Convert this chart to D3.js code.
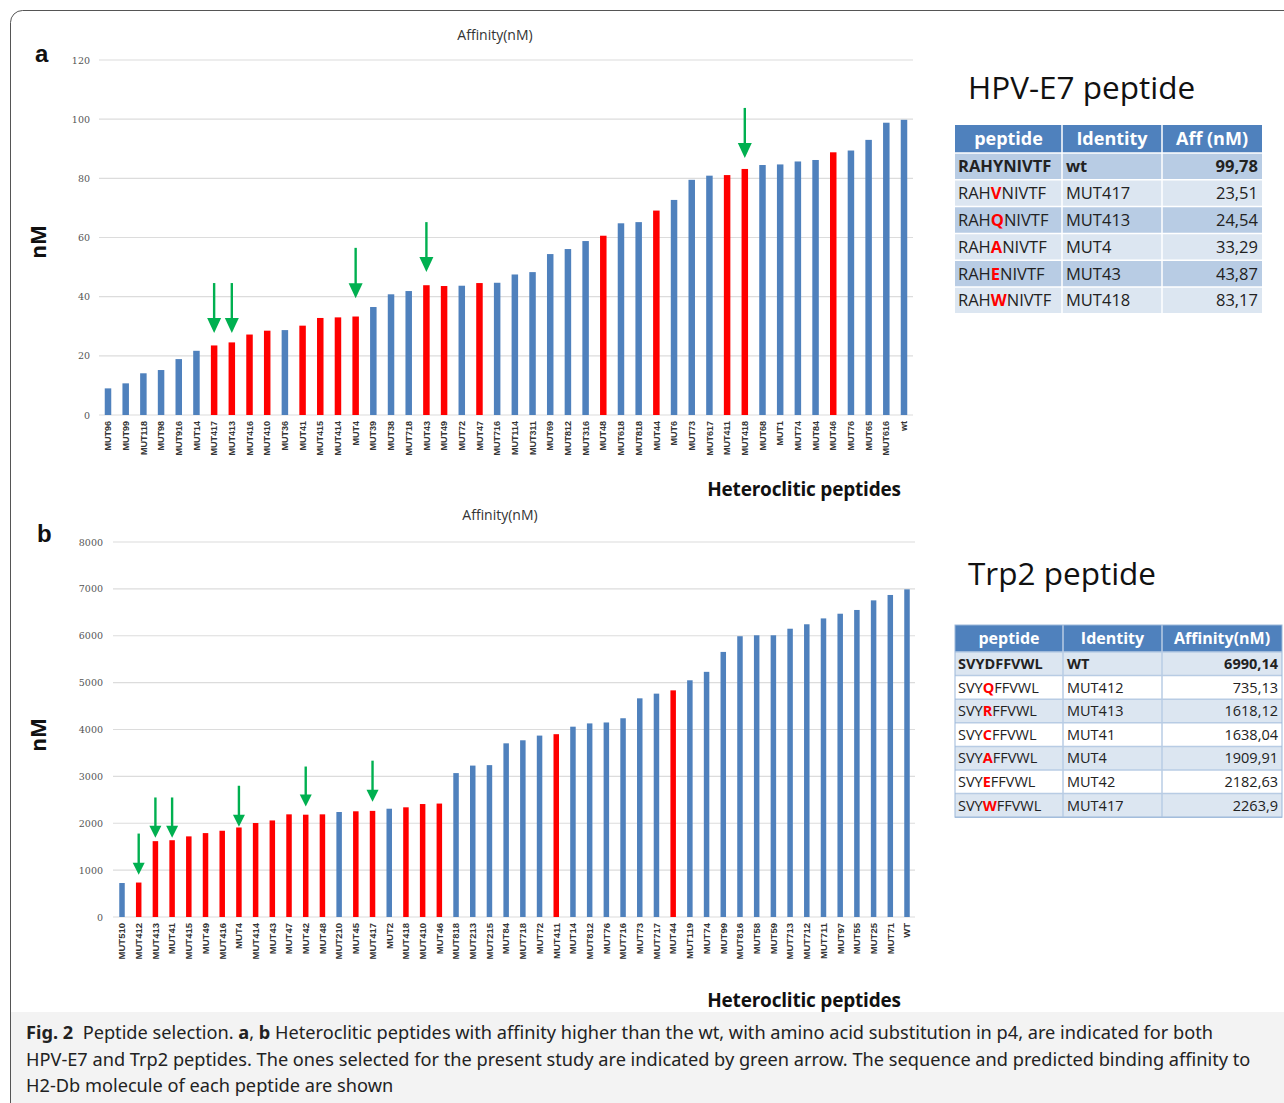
<!DOCTYPE html>
<html>
<head>
<meta charset="utf-8">
<script src="https://cdn.jsdelivr.net/npm/d3@7"></script>
<style>
  body { margin: 0; background: #fff; }
  svg { display: block; }
</style>
</head>
<body>
<svg id="fig"></svg>
<script>
// ---- data: panel a (HPV-E7) ----
const labelsA = ["MUT96","MUT99","MUT118","MUT98","MUT916","MUT14","MUT417","MUT413","MUT416","MUT410",
  "MUT36","MUT41","MUT415","MUT414","MUT4","MUT39","MUT38","MUT718","MUT43","MUT49",
  "MUT72","MUT47","MUT716","MUT114","MUT311","MUT69","MUT812","MUT316","MUT48","MUT618",
  "MUT818","MUT44","MUT6","MUT73","MUT617","MUT411","MUT418","MUT68","MUT1","MUT74",
  "MUT84","MUT46","MUT76","MUT65","MUT616","wt"];
const valuesA = [9.0,10.7,14.1,15.2,18.9,21.7,23.51,24.54,27.2,28.5,
  28.7,30.2,32.8,33.0,33.29,36.5,40.8,41.9,43.87,43.6,
  43.7,44.6,44.7,47.5,48.3,54.4,56.1,58.8,60.6,64.8,
  65.2,69.1,72.7,79.5,80.9,81.1,83.17,84.5,84.7,85.7,
  86.2,88.8,89.4,93.0,98.8,99.78];
const redA = ["MUT417","MUT413","MUT416","MUT410","MUT41","MUT415","MUT414","MUT4","MUT43","MUT49",
  "MUT47","MUT48","MUT44","MUT411","MUT418","MUT46"];
// arrows: [label, tail value, tip value]
const arrowsA = [["MUT417",44.6,27.7],["MUT413",44.6,27.7],["MUT4",56.5,39.5],["MUT43",65.2,48.3],["MUT418",103.8,86.9]];
const ticksA = [0,20,40,60,80,100,120];

// ---- data: panel b (Trp2) ----
const labelsB = ["MUT510","MUT412","MUT413","MUT41","MUT415","MUT49","MUT416","MUT4","MUT414","MUT43",
  "MUT47","MUT42","MUT48","MUT210","MUT45","MUT417","MUT2","MUT418","MUT410","MUT46",
  "MUT818","MUT213","MUT215","MUT84","MUT718","MUT72","MUT411","MUT14","MUT812","MUT76",
  "MUT716","MUT73","MUT717","MUT44","MUT119","MUT74","MUT99","MUT816","MUT58","MUT59",
  "MUT713","MUT712","MUT711","MUT97","MUT55","MUT25","MUT71","WT"];
const valuesB = [725,735.13,1618.12,1638.04,1720,1790,1840,1909.91,2005,2060,
  2190,2182.63,2190,2240,2255,2263.9,2310,2340,2410,2420,
  3070,3230,3240,3705,3770,3870,3900,4060,4130,4150,
  4240,4665,4765,4835,5050,5230,5655,5990,6010,6010,
  6150,6245,6370,6470,6550,6755,6870,6990.14];
const redB = ["MUT412","MUT413","MUT41","MUT415","MUT49","MUT416","MUT4","MUT414","MUT43","MUT47",
  "MUT42","MUT48","MUT45","MUT417","MUT418","MUT410","MUT46","MUT411","MUT44"];
const arrowsB = [["MUT412",1780,900],["MUT413",2550,1690],["MUT41",2550,1690],["MUT4",2800,1925],["MUT42",3210,2355],["MUT417",3335,2460]];
const ticksB = [0,1000,2000,3000,4000,5000,6000,7000,8000];

// ---- tables ----
const headA = ["peptide","Identity","Aff (nM)"];
const peptidesA = ["RAHYNIVTF","RAHVNIVTF","RAHQNIVTF","RAHANIVTF","RAHENIVTF","RAHWNIVTF"];
const identA = ["wt","MUT417","MUT413","MUT4","MUT43","MUT418"];
const affA = ["99,78","23,51","24,54","33,29","43,87","83,17"];

const headB = ["peptide","Identity","Affinity(nM)"];
const peptidesB = ["SVYDFFVWL","SVYQFFVWL","SVYRFFVWL","SVYCFFVWL","SVYAFFVWL","SVYEFFVWL","SVYWFFVWL"];
const identB = ["WT","MUT412","MUT413","MUT41","MUT4","MUT42","MUT417"];
const affB = ["6990,14","735,13","1618,12","1638,04","1909,91","2182,63","2263,9"];

const W = 1284, H = 1103;
const BLUE = "#4f81bd", RED = "#ff0000", GREEN = "#00b050";

const svg = d3.select("#fig").attr("width", W).attr("height", H);

// caption background + frame
svg.append("rect").attr("x", 10).attr("y", 1012).attr("width", W).attr("height", 120).attr("fill", "#f3f3f3");
svg.append("rect").attr("x", 10.5).attr("y", 10.5).attr("width", W + 20).attr("height", H + 20)
  .attr("rx", 12).attr("fill", "none").attr("stroke", "#555").attr("stroke-width", 1);

function drawPanel(cfg) {
  const g = svg.append("g");
  const x = d3.scalePoint().domain(cfg.labels).range(cfg.xRange);
  const y = d3.scaleLinear().domain([0, cfg.ticks[cfg.ticks.length - 1]]).range(cfg.yRange);

  // gridlines
  g.append("g").selectAll("line").data(cfg.ticks).join("line")
    .attr("x1", cfg.gridX[0]).attr("x2", cfg.gridX[1])
    .attr("y1", d => y(d)).attr("y2", d => y(d))
    .attr("stroke", "#dcdcdc").attr("stroke-width", 1.2);

  // y axis labels (no line)
  const ya = g.append("g").attr("transform", `translate(${cfg.tickX},0)`)
    .call(d3.axisLeft(y).tickValues(cfg.ticks).tickFormat(d3.format("d")).tickSize(0).tickPadding(0));
  ya.select(".domain").remove();
  ya.selectAll("text").attr("font-family", "DejaVu Serif, serif")
    .attr("font-size", cfg.tickFont).attr("fill", "#555");

  // bars
  const data = cfg.labels.map((l, i) => ({label: l, value: cfg.values[i]}));
  g.append("g").selectAll("rect").data(data).join("rect")
    .attr("x", d => x(d.label) - cfg.barW / 2)
    .attr("y", d => y(d.value))
    .attr("width", cfg.barW)
    .attr("height", d => y(0) - y(d.value))
    .attr("fill", d => cfg.red.includes(d.label) ? RED : BLUE);

  // x labels
  g.append("g").selectAll("text").data(cfg.labels).join("text")
    .attr("transform", d => `translate(${x(d) + cfg.labFont * 0.35},${y(0) + 6}) rotate(-90)`)
    .attr("text-anchor", "end")
    .attr("font-family", "Liberation Sans, Arial, sans-serif")
    .attr("font-weight", "bold")
    .attr("font-size", cfg.labFont)
    .attr("fill", "#333")
    .text(d => d);

  // arrows: shaft + triangular head
  const ag = g.append("g").selectAll("g").data(cfg.arrows).join("g");
  ag.append("line")
    .attr("x1", d => x(d[0])).attr("x2", d => x(d[0]))
    .attr("y1", d => y(d[1])).attr("y2", d => y(d[2]) - 8)
    .attr("stroke", GREEN).attr("stroke-width", 2.4);
  ag.append("path")
    .attr("d", d => {
      const cx = x(d[0]), ty = y(d[2]);
      return `M${cx - cfg.headW / 2},${ty - cfg.headH} L${cx + cfg.headW / 2},${ty - cfg.headH} L${cx},${ty} Z`;
    })
    .attr("fill", GREEN);

  // titles
  g.append("text").attr("x", cfg.titleX).attr("y", cfg.titleY).attr("text-anchor", "middle")
    .attr("font-family", "Open Sans, sans-serif").attr("font-size", 14).attr("fill", "#333")
    .text("Affinity(nM)");
  g.append("text").attr("x", cfg.letterX).attr("y", cfg.letterY)
    .attr("font-family", "Liberation Sans, Arial, sans-serif").attr("font-weight", "bold")
    .attr("font-size", 24).attr("fill", "#111").text(cfg.letter);
  g.append("text").attr("transform", `translate(46,${cfg.nmY}) rotate(-90)`).attr("text-anchor", "middle")
    .attr("font-family", "Open Sans, sans-serif").attr("font-weight", "bold")
    .attr("font-size", 21).attr("fill", "#111").text("nM");
  g.append("text").attr("x", 804).attr("y", cfg.xTitleY).attr("text-anchor", "middle")
    .attr("font-family", "Open Sans, sans-serif").attr("font-weight", "bold")
    .attr("font-size", 19).attr("fill", "#111").attr("letter-spacing", -0.2)
    .text("Heteroclitic peptides");
}

drawPanel({
  labels: labelsA, values: valuesA, red: redA, arrows: arrowsA, ticks: ticksA,
  xRange: [108, 904], yRange: [415, 60], gridX: [99, 913], tickX: 90, tickFont: 9.5,
  barW: 6.5, labFont: 9, titleX: 495, titleY: 40, letter: "a", letterX: 35, letterY: 62,
  nmY: 242, xTitleY: 496, headW: 14, headH: 15
});

drawPanel({
  labels: labelsB, values: valuesB, red: redB, arrows: arrowsB, ticks: ticksB,
  xRange: [122, 907], yRange: [917, 542], gridX: [113, 915], tickX: 103, tickFont: 9.5,
  barW: 5.5, labFont: 9.5, titleX: 500, titleY: 520, letter: "b", letterX: 37, letterY: 542,
  nmY: 735, xTitleY: 1007, headW: 12, headH: 12
});

// ---- tables ----
function drawTable(cfg) {
  const g = svg.append("g");
  const rows = cfg.peptides.map((p, i) => ({pep: p, id: cfg.ident[i], aff: cfg.aff[i], i}));
  const cx = cfg.cols; // column boundaries
  const rowY = i => cfg.top + cfg.headH + i * cfg.rowH;

  g.append("rect").attr("x", cx[0]).attr("y", cfg.top).attr("width", cx[3] - cx[0]).attr("height", cfg.headH)
    .attr("fill", BLUE);
  g.selectAll("rect.row").data(rows).join("rect").attr("class", "row")
    .attr("x", cx[0]).attr("y", d => rowY(d.i)).attr("width", cx[3] - cx[0]).attr("height", cfg.rowH)
    .attr("fill", d => cfg.fills[d.i % 2]);

  // separators
  const sepC = cfg.sep;
  [cx[1], cx[2]].forEach(c => g.append("line").attr("x1", c).attr("x2", c)
    .attr("y1", cfg.top).attr("y2", rowY(rows.length)).attr("stroke", sepC).attr("stroke-width", 1.5));
  d3.range(rows.length + 1).forEach(i => g.append("line").attr("x1", cx[0]).attr("x2", cx[3])
    .attr("y1", rowY(i)).attr("y2", rowY(i)).attr("stroke", sepC).attr("stroke-width", 1.5));
  if (cfg.outline) g.append("rect").attr("x", cx[0]).attr("y", cfg.top).attr("width", cx[3] - cx[0])
    .attr("height", rowY(rows.length) - cfg.top).attr("fill", "none").attr("stroke", cfg.outline);

  // header
  g.selectAll("text.h").data(cfg.head).join("text").attr("class", "h")
    .attr("x", (d, i) => (cx[i] + cx[i + 1]) / 2).attr("y", cfg.top + cfg.headH / 2 + cfg.headFont * 0.36)
    .attr("text-anchor", "middle").attr("font-family", "Open Sans, sans-serif").attr("font-weight", "bold")
    .attr("font-size", cfg.headFont).attr("fill", "#fff").text(d => d);

  const font = "Open Sans, sans-serif";
  const baseY = d => rowY(d.i) + cfg.rowH / 2 + cfg.font * 0.36;
  const pep = g.selectAll("text.p").data(rows).join("text").attr("class", "p")
    .attr("x", cx[0] + 3).attr("y", baseY).attr("font-family", font)
    .attr("font-size", cfg.font).attr("fill", "#222")
    .attr("font-weight", d => d.i === 0 ? "bold" : "normal");
  pep.append("tspan").text(d => d.pep.slice(0, 3));
  pep.append("tspan").attr("fill", d => d.i === 0 ? "#222" : RED).attr("font-weight", "bold").text(d => d.pep[3]);
  pep.append("tspan").text(d => d.pep.slice(4));

  g.selectAll("text.id").data(rows).join("text").attr("class", "id")
    .attr("x", cx[1] + 4).attr("y", baseY).attr("font-family", font)
    .attr("font-size", cfg.font).attr("fill", "#222")
    .attr("font-weight", d => d.i === 0 ? "bold" : "normal").text(d => d.id);
  g.selectAll("text.v").data(rows).join("text").attr("class", "v")
    .attr("x", cx[3] - 4).attr("y", baseY).attr("text-anchor", "end").attr("font-family", font)
    .attr("font-size", cfg.font).attr("fill", "#222")
    .attr("font-weight", d => d.i === 0 ? "bold" : "normal").text(d => d.aff);

  svg.append("text").attr("x", cfg.titleX).attr("y", cfg.titleY)
    .attr("font-family", "Open Sans, sans-serif").attr("font-size", 31.5).attr("fill", "#111")
    .text(cfg.title);
}

drawTable({
  title: "HPV-E7 peptide", titleX: 968, titleY: 99,
  head: headA, peptides: peptidesA, ident: identA, aff: affA,
  cols: [955, 1062, 1162, 1262], top: 125, headH: 28, rowH: 26.8,
  fills: ["#b8cce4", "#dce6f1"], sep: "#fff", headFont: 18, font: 16.5
});

drawTable({
  title: "Trp2 peptide", titleX: 968, titleY: 585,
  head: headB, peptides: peptidesB, ident: identB, aff: affB,
  cols: [955, 1063, 1162, 1282], top: 625, headH: 27, rowH: 23.6,
  fills: ["#dce6f1", "#ffffff"], sep: "#b8cce4", outline: "#9bb7d9", headFont: 16, font: 14.5
});

// ---- caption ----
const capLines = [
  [["Fig. 2", "bold"], ["  Peptide selection. ", "normal"], ["a", "bold"], [", ", "normal"], ["b", "bold"],
   [" Heteroclitic peptides with affinity higher than the wt, with amino acid substitution in p4, are indicated for both", "normal"]],
  [["HPV-E7 and Trp2 peptides. The ones selected for the present study are indicated by green arrow. The sequence and predicted binding affinity to", "normal"]],
  [["H2-Db molecule of each peptide are shown", "normal"]]
];
const cap = svg.append("g");
capLines.forEach((line, i) => {
  const t = cap.append("text").attr("x", 26).attr("y", 1039 + i * 26.5)
    .attr("font-family", "Noto Sans, sans-serif").attr("font-size", 18.2).attr("fill", "#222");
  line.forEach(([s, w]) => t.append("tspan").attr("font-weight", w).attr("xml:space", "preserve").text(s));
});
</script>
</body>
</html>
